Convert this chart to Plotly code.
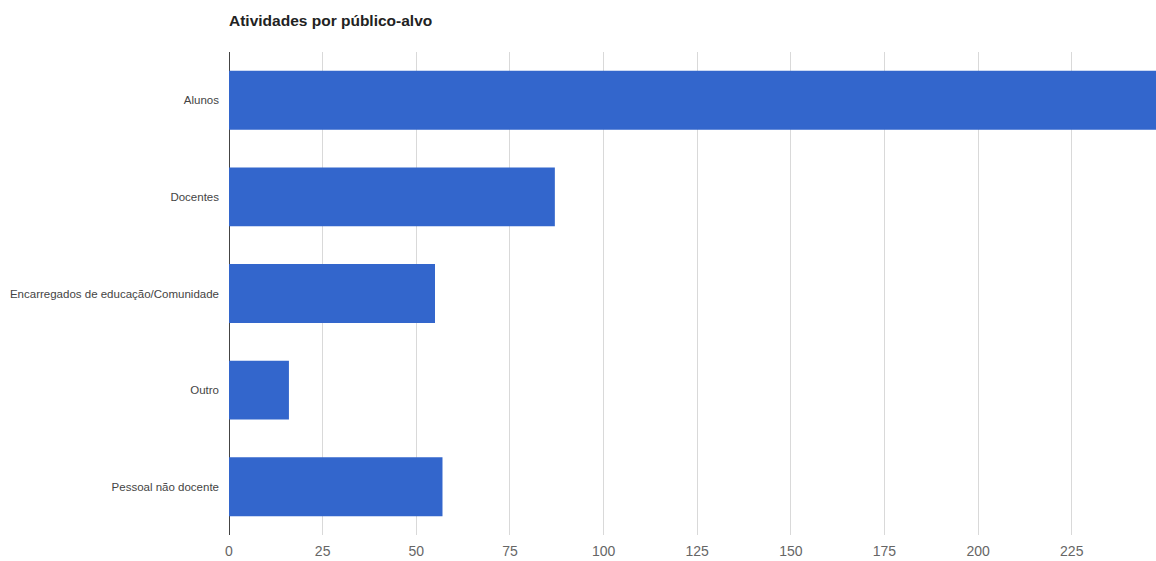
import plotly.graph_objects as go

categories = ["Alunos", "Docentes", "Encarregados de educação/Comunidade", "Outro", "Pessoal não docente"]
values = [248, 87, 55, 16, 57]
tick_vals = [0, 25, 50, 75, 100, 125, 150, 175, 200, 225]

W, H = 1156, 561

fig = go.Figure(go.Bar(
    y=categories, x=values, orientation="h",
    marker=dict(color="#3366CC", line=dict(width=0)),
    width=0.61,
))

fig.update_layout(
    width=W, height=H,
    margin=dict(l=229, r=0, t=52, b=26),
    paper_bgcolor="white", plot_bgcolor="white",
    font=dict(family="Arial, Liberation Sans, sans-serif", color="#444"),
    title=dict(text="<b>Atividades por público-alvo</b>", x=229/W, xanchor="left",
               y=1 - 21/H, yanchor="middle", font=dict(size=15.5, color="#222")),
    showlegend=False,
    bargap=0.39,
)
fig.update_xaxes(range=[0, 247.5], tickvals=tick_vals, showgrid=True, gridcolor="#d9d9d9",
                 gridwidth=1, zeroline=True, zerolinecolor="#444", zerolinewidth=1,
                 tickfont=dict(size=14, color="#666"), ticks="", showline=False,
                 ticklabelstandoff=6)
fig.update_yaxes(autorange="reversed", tickfont=dict(size=11.5, color="#444"), ticks="",
                 showgrid=False, ticklabelstandoff=9, showline=False)

fig.write_html("out.html", config={"displayModeBar": False},
               post_script="document.body.style.margin='0';document.body.style.overflow='hidden';")
